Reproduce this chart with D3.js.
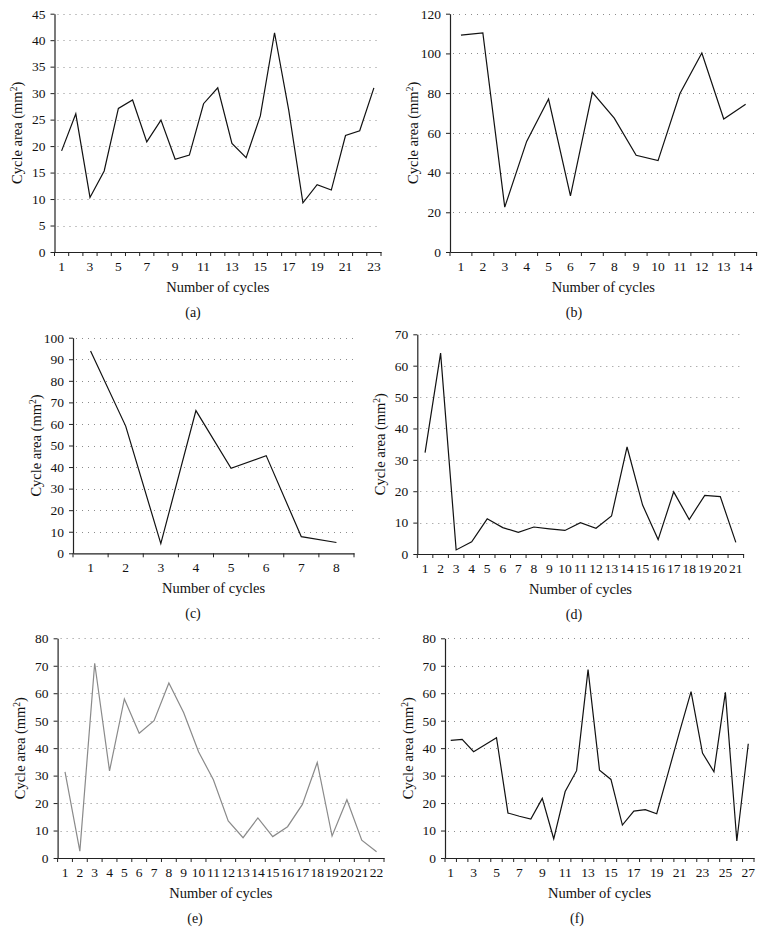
<!DOCTYPE html>
<html>
<head>
<meta charset="utf-8">
<script src="https://cdn.jsdelivr.net/npm/d3@7"></script>
<style>
  html, body { margin: 0; padding: 0; background: #fff; }
  svg { display: block; }
  text { font-family: "Liberation Serif", "Times New Roman", "DejaVu Serif", serif; fill: #111; }
</style>
</head>
<body>
<svg id="chart" width="765" height="944"></svg>
<script>
// ---- Data ----
const cyclesA = [1,2,3,4,5,6,7,8,9,10,11,12,13,14,15,16,17,18,19,20,21,22,23];
const areaA = [19.1,26.1,10.3,15.3,27.1,28.7,20.8,24.9,17.5,18.3,28.0,31.0,20.5,17.8,25.7,41.4,26.8,9.3,12.7,11.7,22.0,22.9,31.0];

const cyclesB = [1,2,3,4,5,6,7,8,9,10,11,12,13,14];
const areaB = [109.2,110.3,22.6,55.7,77.0,28.3,80.4,67.4,48.7,46.0,79.8,100.2,67.0,74.4];

const cyclesC = [1,2,3,4,5,6,7,8];
const areaC = [93.8,59.0,4.5,66.2,39.4,45.3,7.7,5.0];

const cyclesD = [1,2,3,4,5,6,7,8,9,10,11,12,13,14,15,16,17,18,19,20,21];
const areaD = [32.3,64.0,1.3,3.9,11.2,8.4,6.9,8.6,8.0,7.5,10.0,8.2,12.1,34.1,15.6,4.6,19.8,11.0,18.7,18.3,3.7];

const cyclesE = [1,2,3,4,5,6,7,8,9,10,11,12,13,14,15,16,17,18,19,20,21,22];
const areaE = [31.4,2.5,70.9,31.7,57.9,45.4,50.0,63.7,52.9,38.7,28.5,13.5,7.4,14.6,7.8,11.4,19.5,34.8,8.0,21.2,6.5,2.3];

const cyclesF = [1,2,3,4,5,6,7,8,9,10,11,12,13,14,15,16,17,18,19,20,21,22,23,24,25,26,27];
const areaF = [42.8,43.2,38.7,41.2,43.8,16.4,15.2,14.2,21.7,7.0,24.2,31.8,68.6,32.0,28.6,12.0,17.1,17.6,16.1,31.0,46.0,60.6,38.2,31.4,60.3,6.2,41.6];

const yTicksA = [0,5,10,15,20,25,30,35,40,45];
const yTicksB = [0,20,40,60,80,100,120];
const yTicksC = [0,10,20,30,40,50,60,70,80,90,100];
const yTicksD = [0,10,20,30,40,50,60,70];
const yTicksE = [0,10,20,30,40,50,60,70,80];
const yTicksF = [0,10,20,30,40,50,60,70,80];

const panelTags = ["(a)","(b)","(c)","(d)","(e)","(f)"];
const xTitle = "Number of cycles";

// ---- Layout (positions/styles) ----
const panels = [
  {cats: cyclesA, vals: areaA, yTicks: yTicksA, labelEvery: 2, left: 54.5, right: 381, top: 13.7, bottom: 252, color: "#111", tagX: 193},
  {cats: cyclesB, vals: areaB, yTicks: yTicksB, labelEvery: 1, left: 450, right: 756.6, top: 13.7, bottom: 252, color: "#111", tagX: 574},
  {cats: cyclesC, vals: areaC, yTicks: yTicksC, labelEvery: 1, left: 73, right: 354, top: 337.7, bottom: 553.3, color: "#111", tagX: 193},
  {cats: cyclesD, vals: areaD, yTicks: yTicksD, labelEvery: 1, left: 417.3, right: 743.6, top: 334.3, bottom: 554, color: "#111", tagX: 574},
  {cats: cyclesE, vals: areaE, yTicks: yTicksE, labelEvery: 1, left: 57.6, right: 384, top: 638.3, bottom: 858, color: "#8a8a8a", tagX: 195},
  {cats: cyclesF, vals: areaF, yTicks: yTicksF, labelEvery: 2, left: 445, right: 754, top: 638.3, bottom: 858, color: "#111", tagX: 577}
];

const FONT = "'Liberation Serif', 'Times New Roman', serif";
const svg = d3.select("#chart");
svg.append("rect").attr("width", 765).attr("height", 944).attr("fill", "#fff");

panels.forEach((p, i) => {
  const g = svg.append("g");
  const x = d3.scaleBand().domain(p.cats).range([p.left, p.right]).padding(0);
  const yMax = d3.max(p.yTicks);
  const y = d3.scaleLinear().domain([0, yMax]).range([p.bottom, p.top]);

  // gridlines (dotted), excluding 0
  g.append("g").selectAll("line")
    .data(p.yTicks.filter(t => t > 0))
    .join("line")
    .attr("x1", p.left + 3).attr("x2", p.right)
    .attr("y1", d => Math.round(y(d)) + 0.5).attr("y2", d => Math.round(y(d)) + 0.5)
    .attr("stroke", "#8c8c8c").attr("stroke-width", 1)
    .attr("stroke-dasharray", "1,5");

  // y axis
  const yAxis = g.append("g")
    .attr("transform", `translate(${p.left},0)`)
    .call(d3.axisLeft(y).tickValues(p.yTicks).tickSize(4).tickSizeOuter(0).tickPadding(5).tickFormat(d3.format("d")));
  yAxis.select(".domain").attr("stroke", "#222").attr("stroke-width", 1.2);
  yAxis.selectAll(".tick line").attr("stroke", "#222").attr("stroke-width", 1);
  yAxis.selectAll(".tick text").attr("font-size", 13.5).attr("fill", "#111").attr("font-family", FONT);

  // x axis: labels at band centers
  const xAxis = g.append("g")
    .attr("transform", `translate(0,${p.bottom})`)
    .call(d3.axisBottom(x).tickSize(0).tickSizeOuter(0).tickPadding(9.5)
      .tickFormat(d => ((d - 1) % p.labelEvery === 0) ? String(d) : ""));
  xAxis.select(".domain").attr("stroke", "#222").attr("stroke-width", 1.2);
  xAxis.selectAll(".tick text").attr("font-size", 13.5).attr("fill", "#111").attr("font-family", FONT);

  // x ticks at band boundaries
  const bounds = p.cats.map(c => x(c)).concat([x.range()[1]]);
  g.append("g").selectAll("line")
    .data(bounds)
    .join("line")
    .attr("x1", d => d).attr("x2", d => d)
    .attr("y1", p.bottom).attr("y2", p.bottom + 4)
    .attr("stroke", "#222").attr("stroke-width", 1);

  // data line
  const line = d3.line()
    .x((d, j) => x(p.cats[j]) + x.bandwidth() / 2)
    .y(d => y(d));
  g.append("path")
    .datum(p.vals)
    .attr("d", line)
    .attr("fill", "none")
    .attr("stroke", p.color)
    .attr("stroke-width", 1.2)
    .attr("stroke-linejoin", "miter");

  // y title
  const cx = p.left - 37.5;
  const cy = (p.top + p.bottom) / 2;
  const yt = g.append("text")
    .attr("transform", `translate(${cx},${cy}) rotate(-90)`)
    .attr("text-anchor", "middle")
    .attr("dy", "0.35em")
    .attr("font-size", 14.5);
  yt.append("tspan").text("Cycle area (mm");
  yt.append("tspan").attr("baseline-shift", "super").attr("font-size", 9.5).text("2");
  yt.append("tspan").text(")");

  // x title
  g.append("text")
    .attr("x", (p.left + p.right) / 2)
    .attr("y", p.bottom + 35)
    .attr("dy", "0.35em")
    .attr("text-anchor", "middle")
    .attr("font-size", 14.5)
    .text(xTitle);

  // panel tag
  g.append("text")
    .attr("x", p.tagX)
    .attr("y", p.bottom + 60)
    .attr("dy", "0.35em")
    .attr("text-anchor", "middle")
    .attr("font-size", 14)
    .text(panelTags[i]);
});
</script>
</body>
</html>
